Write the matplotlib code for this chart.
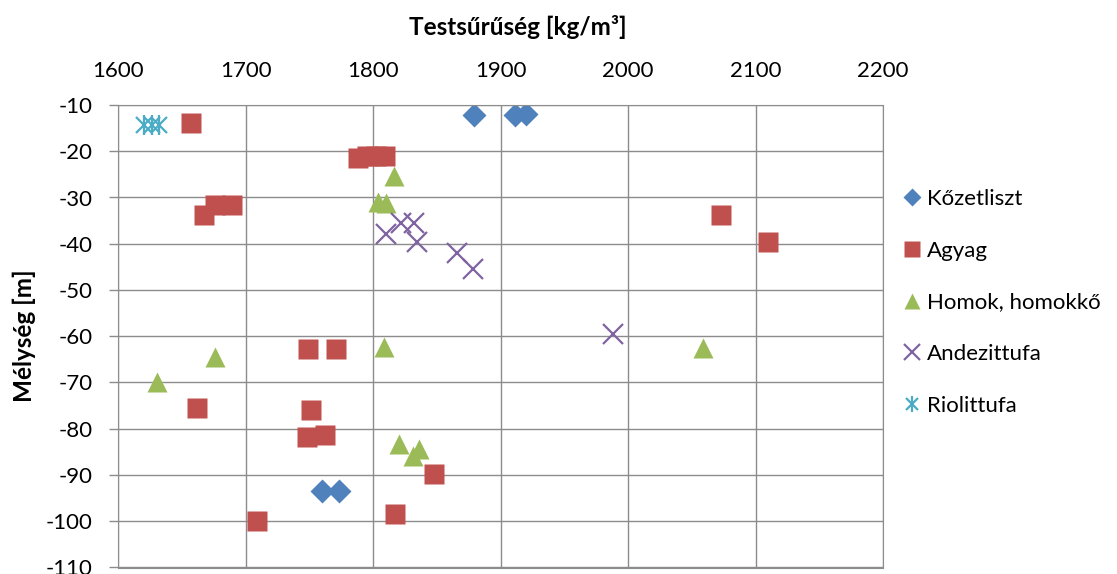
import numpy as np
import matplotlib.pyplot as plt

plt.rcParams['font.family'] = ['Lato', 'DejaVu Sans']
plt.rcParams['axes.unicode_minus'] = False

# Kőzetliszt
kozet_x = [1879, 1911, 1920, 1760, 1773]
kozet_y = [-12.2, -12.2, -11.9, -93.5, -93.5]

# Agyag
agyag_x = [1657, 1788, 1795, 1802, 1809, 1667, 1676, 1689, 2073, 2110,
           1749, 1771, 1662, 1751, 1748, 1762, 1848, 1817, 1709]
agyag_y = [-13.8, -21.5, -21.0, -21.0, -21.0, -33.8, -31.6, -31.6, -33.8, -39.6,
           -62.7, -62.7, -75.6, -75.9, -81.8, -81.4, -89.8, -98.4, -100.0]

# Homok, homokkő
homok_x = [1816, 1804, 1810, 1808, 1676, 1630, 1820, 1836, 1831, 2059]
homok_y = [-25.3, -31.0, -31.1, -62.3, -64.5, -70.0, -83.3, -84.3, -85.8, -62.5]

# Andezittufa
andez_x = [1810, 1822, 1832, 1834, 1866, 1878, 1988]
andez_y = [-37.9, -35.6, -35.6, -39.6, -42.1, -45.4, -59.6]

# Riolittufa
riol_x = [1620, 1626, 1632]
riol_y = [-14.3, -14.3, -14.3]

grid_c = '#8c8c8c'

fig = plt.figure(figsize=(11.17, 5.74), dpi=100)
ax = fig.add_axes([118.5/1117, 1 - 567.5/574, (883 - 118.5)/1117, (567.5 - 105)/574])

h1, = ax.plot(kozet_x, kozet_y, 'D', color='#4F81BD', ms=12, mec='none')
h2, = ax.plot(agyag_x, agyag_y, 's', color='#C0504D', ms=15, mec='none')
h3, = ax.plot(homok_x, homok_y, '^', color='#9BBB59', ms=15, mec='none')
h4, = ax.plot(andez_x, andez_y, 'x', color='#8064A2', ms=14, mew=1.6)
h5a, = ax.plot(riol_x, riol_y, 'x', color='#4BACC6', ms=11, mew=1.6)
h5b, = ax.plot(riol_x, riol_y, '|', color='#4BACC6', ms=14, mew=1.6)

ax.set_xlim(1600, 2200)
ax.set_ylim(-110, -10)
ax.set_xticks(np.arange(1600, 2201, 100))
ax.set_yticks(np.arange(-110, -9, 10))
ax.xaxis.tick_top()
ax.tick_params(axis='x', length=0, pad=17, labelsize=16)
ax.tick_params(axis='y', length=6.5, width=1, color=grid_c, pad=12, labelsize=16)
ax.grid(True, color=grid_c, lw=1)
ax.set_axisbelow(True)
for s in ax.spines.values():
    s.set_color(grid_c)

fig.text(518/1117, 1 - 27/574, 'Testsűrűség [kg/m³]', ha='center', va='center',
         fontsize=17.5, fontweight='bold')
fig.text(24/1117, 1 - 336/574, 'Mélység [m]', ha='center', va='center',
         rotation=90, fontsize=17.5, fontweight='bold')

leg = fig.legend([h1, h2, h3, h4, (h5a, h5b)],
                 ['Kőzetliszt', 'Agyag', 'Homok, homokkő', 'Andezittufa', 'Riolittufa'],
                 loc='upper left', bbox_to_anchor=(894/1117, 1 - 180/574),
                 frameon=False, fontsize=16, markerscale=0.8, handlelength=0.8,
                 handletextpad=0.3, labelspacing=1.43, borderaxespad=0)

fig.savefig('out.png', dpi=100)
